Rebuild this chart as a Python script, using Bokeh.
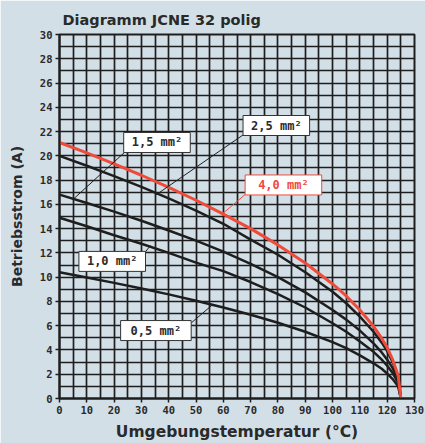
from bokeh.plotting import figure
from bokeh.models import Range1d, FixedTicker, Label
from bokeh.embed import file_html
from bokeh.resources import INLINE

# ---- data ----
temps = [0, 10, 20, 30, 40, 50, 60, 70, 80, 90, 100, 105, 110, 115, 118, 120, 122, 124, 125]
i_40 = [21.1, 20.24, 19.34, 18.4, 17.4, 16.34, 15.2, 14.0, 12.66, 11.17, 9.44, 8.45, 7.3, 5.95, 4.95, 4.2, 3.2, 1.9, 0.0]
i_25 = [20.0, 19.18, 18.33, 17.44, 16.49, 15.49, 14.4, 13.1, 11.85, 10.4, 8.8, 7.85, 6.75, 5.5, 4.6, 3.9, 3.0, 1.75, 0.0]
i_15 = [16.8, 16.11, 15.4, 14.65, 13.85, 13.01, 12.1, 11.1, 10.0, 8.75, 7.3, 6.5, 5.6, 4.55, 3.8, 3.2, 2.5, 1.5, 0.0]
i_10 = [14.9, 14.2, 13.45, 12.75, 12.0, 11.2, 10.5, 9.6, 8.6, 7.5, 6.2, 5.5, 4.7, 3.85, 3.2, 2.7, 2.1, 1.3, 0.0]
i_05 = [10.4, 9.98, 9.53, 9.07, 8.58, 8.06, 7.5, 6.9, 6.24, 5.5, 4.65, 4.15, 3.55, 2.9, 2.45, 2.05, 1.6, 1.0, 0.0]
series_names = ["4,0 mm²", "2,5 mm²", "1,5 mm²", "1,0 mm²", "0,5 mm²"]
x_ticks = list(range(0, 131, 10))
y_ticks = list(range(0, 31, 2))
x_grid = list(range(0, 131, 5))
y_grid = list(range(0, 31, 1))

# ---- layout / styling ----
BG = "#d3dfe7"
INK = "#1e1e1e"
TXT = "#2a2a2a"
RED = "#ef4b3b"
label_pos = [(82.0, 17.6), (79.4, 22.5), (35.7, 21.1), (19.3, 11.3), (35.3, 5.6)]
label_pad = [(13, 3), (8, 3), (8, 3), (8, 3), (10, 3)]  # (horizontal, vertical)
leaders = [((68.1, 16.83), (59.7, 15.23)),
           ((67.4, 21.75), (35.1, 16.75)),
           ((23.75, 20.27), (5.4, 16.5)),
           ((31.4, 12.07), (33.3, 12.6)),
           ((48.3, 6.24), (56.0, 7.72))]

p = figure(width=425, height=443, x_range=Range1d(0, 130), y_range=Range1d(0, 30),
           output_backend="svg", toolbar_location=None,
           min_border_left=59, min_border_right=11, min_border_top=34, min_border_bottom=43)
p.background_fill_color = BG
p.border_fill_color = BG
p.outline_line_color = INK
p.outline_line_width = 2

p.title.text = "Diagramm JCNE 32 polig"
p.title.text_font = "DejaVu Sans"
p.title.text_font_size = "14.5px"
p.title.text_font_style = "bold"
p.title.text_color = TXT
p.title.offset = 3
p.title.standoff = 14

p.xgrid.ticker = FixedTicker(ticks=x_grid)
p.ygrid.ticker = FixedTicker(ticks=y_grid)
for g in (p.xgrid, p.ygrid):
    g.grid_line_color = INK
    g.grid_line_width = 1.7
    g.grid_line_alpha = 1.0

p.xaxis.ticker = FixedTicker(ticks=x_ticks)
p.yaxis.ticker = FixedTicker(ticks=y_ticks)
p.xaxis.axis_label = "Umgebungstemperatur (°C)"
p.yaxis.axis_label = "Betriebsstrom (A)"
for ax in (p.xaxis, p.yaxis):
    ax.axis_line_color = INK
    ax.axis_line_width = 2
    ax.major_tick_line_color = INK
    ax.major_tick_line_width = 1.5
    ax.major_tick_out = 4
    ax.major_tick_in = 0
    ax.minor_tick_line_color = None
    ax.major_label_text_font = "DejaVu Sans Mono"
    ax.major_label_text_font_style = "bold"
    ax.major_label_text_font_size = "10.5px"
    ax.major_label_text_color = TXT
    ax.major_label_standoff = 3
    ax.axis_label_text_font = "DejaVu Sans"
    ax.axis_label_text_font_style = "bold"
    ax.axis_label_text_color = TXT
p.xaxis.axis_label_text_font_size = "15.5px"
p.yaxis.axis_label_text_font_size = "14px"
p.xaxis.axis_label_standoff = 6
p.yaxis.axis_label_standoff = 12

series = [i_40, i_25, i_15, i_10, i_05]
colors = [RED, INK, INK, INK, INK]
widths = [3, 2.5, 2.5, 2.5, 2.5]
# draw black curves first, red on top
for vals, c, w in list(zip(series, colors, widths))[::-1]:
    p.line(temps, vals, line_color=c, line_width=w, line_join="round")

for (a, b), c in zip(leaders, colors):
    p.segment(x0=[a[0]], y0=[a[1]], x1=[b[0]], y1=[b[1]], line_color=c, line_width=1)

for name, (lx, ly), pad, c in zip(series_names, label_pos, label_pad, colors):
    p.add_layout(Label(x=lx, y=ly, text=name, text_align="center", text_baseline="middle",
                       text_font="DejaVu Sans Mono", text_font_style="bold", text_font_size="12px",
                       text_color=(RED if c == RED else TXT),
                       background_fill_color="white", border_line_color=(RED if c == RED else "#333333"),
                       border_line_width=1, padding=pad))

open("out.html", "w").write(file_html(p, INLINE))
